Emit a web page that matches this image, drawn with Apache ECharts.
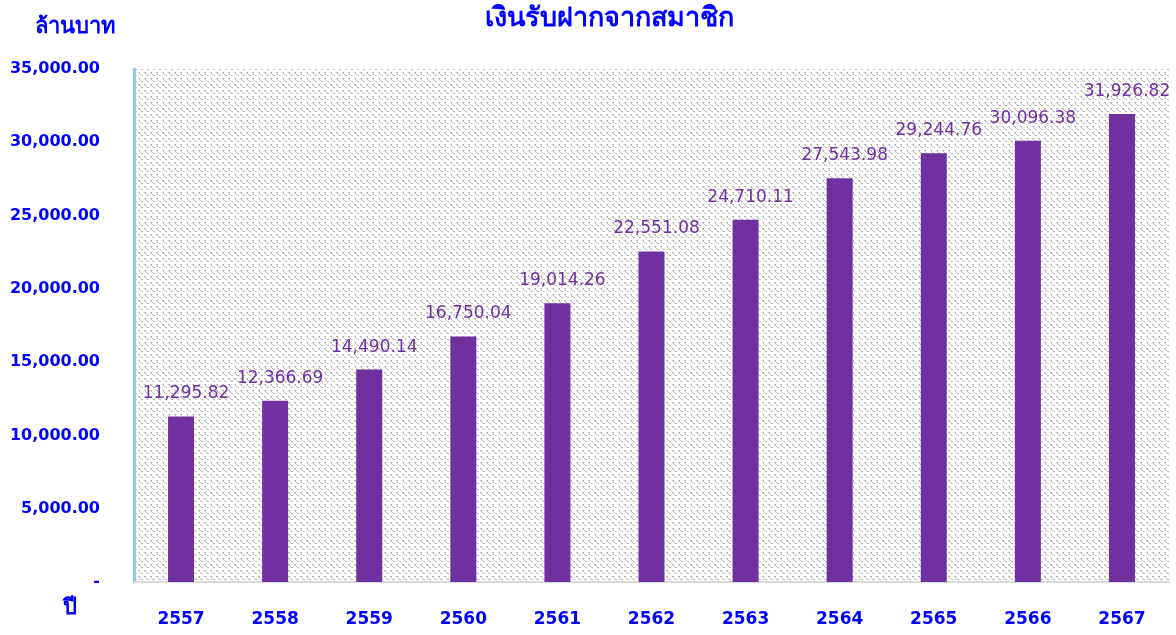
<!DOCTYPE html>
<html>
<head>
<meta charset="utf-8">
<script src="https://cdn.jsdelivr.net/npm/echarts@6/dist/echarts.min.js"></script>
<style>
  html, body { margin: 0; padding: 0; background: #fff; }
  #chart { width: 1176px; height: 635px; }
</style>
</head>
<body>
<div id="chart"></div>
<script>
// ข้อมูลเงินรับฝากจากสมาชิก (ล้านบาท)
const years = ['2557', '2558', '2559', '2560', '2561', '2562', '2563', '2564', '2565', '2566', '2567'];
const deposits = [11295.82, 12366.69, 14490.14, 16750.04, 19014.26, 22551.08, 24710.11, 27543.98, 29244.76, 30096.38, 31926.82];
const yTicks = [0, 5000, 10000, 15000, 20000, 25000, 30000, 35000];

const fmt = v => v.toLocaleString('en-US', { minimumFractionDigits: 2, maximumFractionDigits: 2 });

// ลายพื้นหลังแบบเส้นทแยงประ
const makePattern = () => {
    const c = document.createElement('canvas');
    c.width = 6; c.height = 6;
    const ctx = c.getContext('2d');
    ctx.fillStyle = '#ffffff';
    ctx.fillRect(0, 0, 6, 6);
    ctx.fillStyle = '#b8b8b8';
    [[0, 0], [1, 1], [2, 2], [3, 3], [1, 0], [4, 3]].forEach(([x, y]) => ctx.fillRect(x, y, 1, 1));
    return c;
};

const blue = '#0000ff';
const purple = '#7030a0';

const myChart = echarts.init(document.getElementById('chart'));
myChart.setOption({
    animation: false,
    title: [
        {
            text: 'เงินรับฝากจากสมาชิก',
            left: 604, top: 0, textAlign: 'center',
            textStyle: { color: blue, fontSize: 27, fontWeight: 'bold', fontFamily: 'Noto Sans, sans-serif' }
        },
        {
            text: 'ล้านบาท',
            left: 30, top: 11,
            textStyle: { color: blue, fontSize: 22, fontWeight: 'bold', fontFamily: 'Noto Sans, sans-serif' }
        },
        {
            text: 'ปี',
            left: 58, top: 592,
            textStyle: { color: blue, fontSize: 22, fontWeight: 'bold', fontFamily: 'Noto Sans, sans-serif' }
        }
    ],
    grid: {
        left: 134, right: 7, top: 69, bottom: 53,
        show: true,
        borderWidth: 0,
        backgroundColor: { image: makePattern(), repeat: 'repeat' }
    },
    xAxis: {
        type: 'category',
        data: years,
        axisLine: { lineStyle: { color: '#d9d9d9', width: 2 } },
        axisTick: { show: false },
        axisLabel: {
            color: blue, fontSize: 17, fontWeight: 'bold', margin: 29,
            fontFamily: 'DejaVu Sans, sans-serif'
        }
    },
    yAxis: {
        type: 'value',
        min: yTicks[0],
        max: yTicks[yTicks.length - 1],
        interval: 5000,
        axisLine: { show: true, lineStyle: { color: '#8ccbe8', width: 3 } },
        axisTick: { show: false },
        splitLine: { show: false },
        axisLabel: {
            color: blue, fontSize: 16, fontWeight: 'bold', margin: 34,
            fontFamily: 'DejaVu Sans, sans-serif',
            formatter: v => (v === 0 ? '-' : fmt(v))
        }
    },
    series: [{
        type: 'bar',
        data: deposits,
        barWidth: 26,
        itemStyle: { color: purple },
        label: {
            show: true,
            position: 'top',
            distance: 14,
            offset: [5, 0],
            color: purple,
            fontSize: 17,
            fontFamily: 'DejaVu Sans, sans-serif',
            formatter: p => fmt(p.value)
        }
    }]
});
</script>
</body>
</html>
